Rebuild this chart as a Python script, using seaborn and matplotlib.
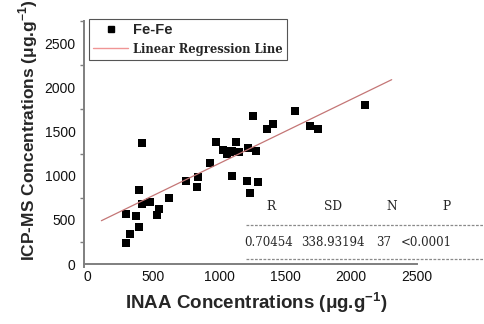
import numpy as np
import pandas as pd
import matplotlib
matplotlib.use("Agg")
import matplotlib.pyplot as plt
import seaborn as sns
from matplotlib.lines import Line2D
from matplotlib.ticker import MultipleLocator

# INAA vs ICP-MS iron concentrations (ug/g)
inaa = [290, 320, 390, 290, 365, 413, 388, 413, 477, 525, 540, 622, 746,
        833, 841, 929, 973, 1031, 1062, 1074, 1100, 1100, 1127, 1153, 1209,
        1222, 1234, 1260, 1283, 1293, 1364, 1405, 1575, 1687, 1748, 2110, 1085]
icpms = [240, 345, 420, 565, 540, 680, 837, 1365, 708, 555, 618, 747, 942,
         874, 988, 1143, 1380, 1293, 1240, 1274, 1274, 999, 1383, 1270, 942,
         1312, 810, 1678, 1274, 934, 1534, 1584, 1731, 1557, 1523, 1805, 1270]

# regression line: y = fit_slope * x + fit_intercept, drawn over fit_x
fit_slope = 0.7235
fit_intercept = 415
fit_x = [105, 2310]

stat_headers = ["R", "SD", "N", "P"]
stat_values = ["0.70454", "338.93194", "37", "<0.0001"]

df = pd.DataFrame({"INAA": inaa, "ICPMS": icpms})
fit_df = pd.DataFrame({"x": fit_x, "y": [fit_slope * v + fit_intercept for v in fit_x]})

sns.set_style("white")
plt.rcParams["font.family"] = ["Liberation Sans", "DejaVu Sans"]
plt.rcParams["mathtext.fontset"] = "custom"
plt.rcParams["mathtext.bf"] = "Liberation Sans:bold"
plt.rcParams["mathtext.rm"] = "Liberation Sans:bold"

fig = plt.figure(figsize=(4.84, 3.24), dpi=100)
ax_l, ax_r, ax_t, ax_b = 84, 416.7, 21, 266.5
ax = fig.add_axes([ax_l / 484, 1 - ax_b / 324, (ax_r - ax_l) / 484, (ax_b - ax_t) / 324])

line_color = "#c47676"
sns.lineplot(data=fit_df, x="x", y="y", ax=ax, color=line_color, lw=0.9)
sns.scatterplot(data=df, x="INAA", y="ICPMS", ax=ax, marker="s", s=26,
                color="black", edgecolor="black", linewidth=0)

ax.set_xlim(-27, 2500)
ax.set_ylim(-27, 2750)
ax.set_xticks([0, 500, 1000, 1500, 2000, 2500])
ax.set_yticks([0, 500, 1000, 1500, 2000, 2500])
ax.yaxis.set_minor_locator(MultipleLocator(250))

axis_gray = "#7f7f7f"
for side in ["top", "right"]:
    ax.spines[side].set_visible(False)
for side in ["left", "bottom"]:
    ax.spines[side].set_color(axis_gray)
    ax.spines[side].set_linewidth(1.4)
ax.spines["bottom"].set_position(("data", 0))

ax.tick_params(axis="both", which="major", direction="out", length=5, width=1.1,
               color=axis_gray, labelsize=10, labelcolor="#111111", pad=1)
ax.tick_params(axis="y", which="minor", direction="out", length=3, width=1.0,
               color=axis_gray, left=True)
ax.tick_params(axis="x", pad=-1)

ax.set_xlabel("INAA Concentrations (μg.g$^{\\mathbf{-1}}$)", fontsize=13.5,
              fontweight="bold", va="center")
ax.set_ylabel("ICP-MS Concentrations (μg.g$^{\\mathbf{-1}}$)", fontsize=12.5,
              fontweight="bold", va="center")
h_ax = ax_b - ax_t
w_ax = ax_r - ax_l
ax.xaxis.set_label_coords((256 - ax_l) / w_ax, -(303 - ax_b) / h_ax)
ax.yaxis.set_label_coords((28 - ax_l) / w_ax, (ax_b - 130) / h_ax)

handles = [
    Line2D([], [], marker="s", color="black", linestyle="none", markersize=5),
    Line2D([], [], color="#f09595", lw=1.0),
]
leg = ax.legend(handles, ["Fe-Fe", "Linear Regression Line"], loc="upper left",
                bbox_to_anchor=(0.016, 1.01), frameon=True, fancybox=False,
                edgecolor="#555555", framealpha=1, borderpad=0.3,
                handlelength=2.5, handletextpad=0.35, labelspacing=0.45,
                borderaxespad=0)
leg.get_frame().set_linewidth(0.8)
leg.get_texts()[0].set_fontproperties({"family": "Liberation Sans", "weight": "bold", "size": 10.5})
leg.get_texts()[1].set_fontproperties({"family": "DejaVu Serif", "weight": "bold", "size": 8.3})

# statistics table under the regression line
head_x = [271, 333, 392, 446]
val_x = [269, 333, 384, 426]
for hx, vx, h, v in zip(head_x, val_x, stat_headers, stat_values):
    fig.text(hx / 484, 1 - 207 / 324, h, ha="center", va="center",
             fontsize=8.8, family="DejaVu Serif")
    fig.text(vx / 484, 1 - 242 / 324, v, ha="center", va="center",
             fontsize=8.5, family="DejaVu Serif")
for yy in [225, 258.5]:
    fig.add_artist(Line2D([246 / 484, 484 / 484], [1 - yy / 324] * 2,
                          transform=fig.transFigure, color="#8a8a8a",
                          lw=0.9, linestyle=(0, (2.2, 1.2))))

fig.savefig("out.png", dpi=100)
